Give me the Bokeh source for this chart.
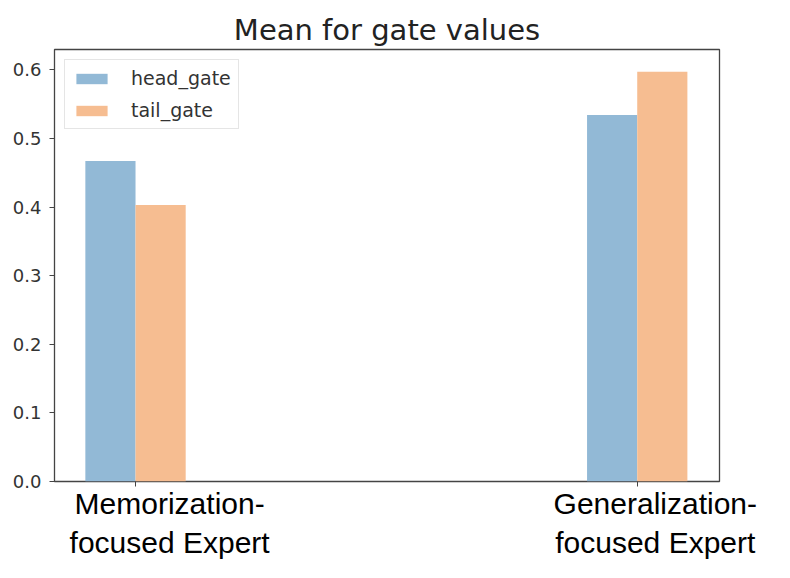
from bokeh.plotting import figure
from bokeh.models import FixedTicker, Range1d, Legend, LegendItem, ColumnDataSource, NumeralTickFormatter
from bokeh.embed import file_html
from bokeh.resources import INLINE

# data
categories = ["Memorization-\nfocused Expert", "Generalization-\nfocused Expert"]
head_gate = [0.467, 0.534]
tail_gate = [0.403, 0.597]
y_ticks = [0.0, 0.1, 0.2, 0.3, 0.4, 0.5, 0.6]

group_x = list(range(len(categories)))
bar_w = 0.1
label_shift = [0.068, 0.036]  # the pasted labels sit right of the ticks

p = figure(width=774, height=562, output_backend="svg", toolbar_location=None,
           x_range=Range1d(-0.1615, 1.164), y_range=Range1d(0, 0.6296),
           min_border_left=54, min_border_right=55, min_border_top=49, min_border_bottom=40,
           title="Mean for gate values")

p.title.text_font = "DejaVu Sans"
p.title.text_font_size = "29px"
p.title.text_font_style = "normal"
p.title.align = "center"
p.title.text_color = "#222222"
p.title.standoff = 6

src = ColumnDataSource(dict(
    xh=[g - bar_w / 2 for g in group_x],
    xt=[g + bar_w / 2 for g in group_x],
    head=head_gate, tail=tail_gate))

r1 = p.vbar(x="xh", top="head", width=bar_w, source=src, fill_color="#92b9d6", line_color=None)
r2 = p.vbar(x="xt", top="tail", width=bar_w, source=src, fill_color="#f6bd91", line_color=None)

legend = Legend(items=[LegendItem(label="head_gate", renderers=[r1]),
                       LegendItem(label="tail_gate", renderers=[r2])],
                location="top_left")
legend.margin = 10
legend.padding = 7
legend.spacing = 10
legend.glyph_width = 39
legend.glyph_height = 13
legend.label_height = 22
legend.label_standoff = 20
legend.label_text_font = "DejaVu Sans"
legend.label_text_font_size = "19px"
legend.label_text_color = "#333333"
legend.border_line_color = "#cccccc"
legend.border_line_width = 1
legend.background_fill_alpha = 0.8
p.add_layout(legend)

p.xgrid.visible = False
p.ygrid.visible = False
p.outline_line_color = "#444444"
p.outline_line_width = 1.3

# y axis
p.yaxis.ticker = FixedTicker(ticks=y_ticks)
p.yaxis.formatter = NumeralTickFormatter(format="0.0")
p.yaxis.axis_line_color = None
p.yaxis.major_tick_in = 0
p.yaxis.major_tick_out = 5
p.yaxis.minor_tick_line_color = None
p.yaxis.major_tick_line_color = "#444444"
p.yaxis.major_label_text_font = "DejaVu Sans"
p.yaxis.major_label_text_font_size = "18px"
p.yaxis.major_label_text_color = "#333333"
p.yaxis.major_label_standoff = 8

# x axis: labels at shifted positions, tick marks at group centres (minor ticks)
label_pos = [g + s for g, s in zip(group_x, label_shift)]
p.xaxis.ticker = FixedTicker(ticks=label_pos, minor_ticks=group_x)
p.xaxis.major_label_overrides = {lp: c for lp, c in zip(label_pos, categories)}
p.xaxis.axis_line_color = None
p.xaxis.major_tick_line_color = None
p.xaxis.major_tick_in = 0
p.xaxis.major_tick_out = 0
p.xaxis.minor_tick_in = 0
p.xaxis.minor_tick_out = 5
p.xaxis.minor_tick_line_color = "#444444"
p.xaxis.major_label_text_font = "Liberation Sans"
p.xaxis.major_label_text_font_size = "30px"
p.xaxis.major_label_text_color = "#000000"
p.xaxis.major_label_standoff = 0

open("out.html", "w").write(file_html(p, INLINE))
